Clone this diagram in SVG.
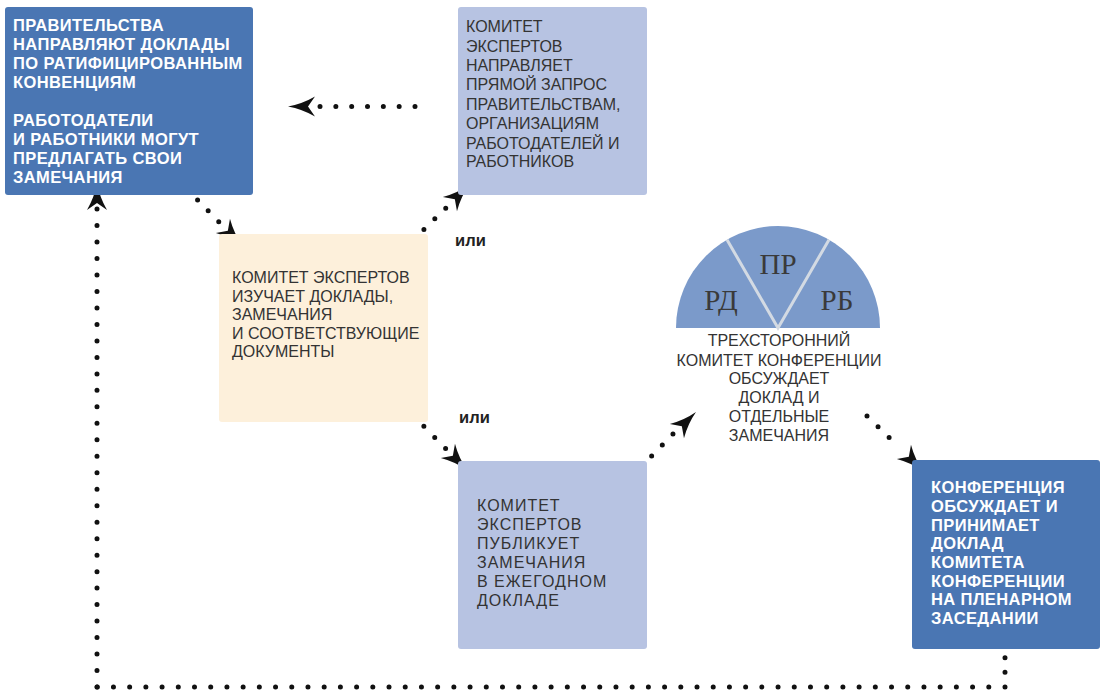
<svg xmlns="http://www.w3.org/2000/svg" xmlns:xlink="http://www.w3.org/1999/xlink" width="1100" height="692" viewBox="0 0 1100 692">
<style>
.dark{fill:#4a76b3}
.light{fill:#b7c3e2}
.cream{fill:#fdf0db}
.tw{font-family:"Liberation Sans","Arial",sans-serif;font-weight:bold;font-size:16.5px;letter-spacing:0.4px;fill:#ffffff}
.tg{font-family:"Liberation Sans","Arial",sans-serif;font-size:16px;fill:#333333}
.tr{letter-spacing:1px}
.ili{font-family:"Liberation Sans","Arial",sans-serif;font-weight:bold;font-size:16.5px;fill:#222222}
.ser{font-family:"Liberation Serif","DejaVu Serif",serif;font-size:29px;fill:#3a3a3a;text-anchor:middle}
.dot{fill:none;stroke:#111111;stroke-width:5;stroke-linecap:round}
</style>
<defs>
<path id="arrow" d="M0,0 Q-14,-2.5 -27,-10 L-20,0 L-27,10 Q-14,2.5 0,0 Z" fill="#111111"/>
</defs>
<g id="connectors">
<path class="dot" stroke-dasharray="0 15.83" d="M415,106.5 L320,106.5"/>
<use xlink:href="#arrow" transform="translate(288,106.5) rotate(180)"/>
<path class="dot" stroke-dasharray="0 15.2" d="M187,189 L219,222"/>
<use xlink:href="#arrow" transform="translate(242,245) rotate(45)"/>
<path class="dot" stroke-dasharray="0 15.2" d="M413,240 L446,208"/>
<use xlink:href="#arrow" transform="translate(469,185) rotate(-45)"/>
<path class="dot" stroke-dasharray="0 15.6" d="M413,415 L446,449"/>
<use xlink:href="#arrow" transform="translate(467,470) rotate(45)"/>
<path class="dot" stroke-dasharray="0 15.3" d="M641,467 L673,434"/>
<use xlink:href="#arrow" transform="translate(696,412) rotate(-45)"/>
<path class="dot" stroke-dasharray="0 15.4" d="M867,416 L900,448"/>
<use xlink:href="#arrow" transform="translate(923,471) rotate(45)"/>
<path class="dot" stroke-dasharray="0 14.67" d="M1005,643 L1005,687"/>
<path class="dot" stroke-dasharray="0 16.21" d="M1005,687 L97,687"/>
<path class="dot" stroke-dasharray="0 16.48" d="M97,687 L97,209"/>
<use xlink:href="#arrow" transform="translate(97,183) rotate(-90)"/>
</g>
<g id="n1">
<rect class="dark" x="5" y="7" width="248" height="188" rx="3"/>
<text class="tw"><tspan x="13" y="31">ПРАВИТЕЛЬСТВА</tspan><tspan x="13" y="50">НАПРАВЛЯЮТ ДОКЛАДЫ</tspan><tspan x="13" y="69">ПО РАТИФИЦИРОВАННЫМ</tspan><tspan x="13" y="88">КОНВЕНЦИЯМ</tspan><tspan x="13" y="126">РАБОТОДАТЕЛИ</tspan><tspan x="13" y="145">И РАБОТНИКИ МОГУТ</tspan><tspan x="13" y="164">ПРЕДЛАГАТЬ СВОИ</tspan><tspan x="13" y="183">ЗАМЕЧАНИЯ</tspan></text>
</g>
<g id="n2">
<rect class="light" x="458" y="7" width="189" height="188" rx="3"/>
<text class="tg"><tspan x="466" y="32">КОМИТЕТ</tspan><tspan x="466" y="51.5">ЭКСПЕРТОВ</tspan><tspan x="466" y="71">НАПРАВЛЯЕТ</tspan><tspan x="466" y="90">ПРЯМОЙ ЗАПРОС</tspan><tspan x="466" y="110">ПРАВИТЕЛЬСТВАМ,</tspan><tspan x="466" y="129">ОРГАНИЗАЦИЯМ</tspan><tspan x="466" y="148.5">РАБОТОДАТЕЛЕЙ И</tspan><tspan x="466" y="167">РАБОТНИКОВ</tspan></text>
</g>
<g id="n3">
<rect class="cream" x="219" y="234" width="209" height="188" rx="3"/>
<text class="tg"><tspan x="232" y="283">КОМИТЕТ ЭКСПЕРТОВ</tspan><tspan x="232" y="301.5">ИЗУЧАЕТ ДОКЛАДЫ,</tspan><tspan x="232" y="320">ЗАМЕЧАНИЯ</tspan><tspan x="232" y="338.5">И СООТВЕТСТВУЮЩИЕ</tspan><tspan x="232" y="357">ДОКУМЕНТЫ</tspan></text>
</g>
<g id="n4">
<rect class="light" x="458" y="461" width="189" height="188" rx="3"/>
<text class="tg tr"><tspan x="477" y="511">КОМИТЕТ</tspan><tspan x="477" y="530">ЭКСПЕРТОВ</tspan><tspan x="477" y="549">ПУБЛИКУЕТ</tspan><tspan x="477" y="568">ЗАМЕЧАНИЯ</tspan><tspan x="477" y="587">В ЕЖЕГОДНОМ</tspan><tspan x="477" y="606">ДОКЛАДЕ</tspan></text>
</g>
<g id="n5">
<rect class="dark" x="912" y="460" width="188" height="189" rx="3"/>
<text class="tw"><tspan x="931" y="493">КОНФЕРЕНЦИЯ</tspan><tspan x="931" y="512">ОБСУЖДАЕТ И</tspan><tspan x="931" y="530.5">ПРИНИМАЕТ</tspan><tspan x="931" y="549">ДОКЛАД</tspan><tspan x="931" y="568">КОМИТЕТА</tspan><tspan x="931" y="586.5">КОНФЕРЕНЦИИ</tspan><tspan x="931" y="605">НА ПЛЕНАРНОМ</tspan><tspan x="931" y="623.5">ЗАСЕДАНИИ</tspan></text>
</g>
<g id="n6">
<path d="M676,328 A102,102 0 0 1 880,328 Z" fill="#7b9aca"/>
<path d="M727,239.7 L778,328 L829,239.7" fill="none" stroke="#d3dae3" stroke-width="3"/>
<text class="ser" x="721" y="310">РД</text>
<text class="ser" x="778" y="274">ПР</text>
<text class="ser" x="837" y="310">РБ</text>
<text class="tg" text-anchor="middle"><tspan x="779" y="346">ТРЕХСТОРОННИЙ</tspan><tspan x="779" y="365.5">КОМИТЕТ КОНФЕРЕНЦИИ</tspan><tspan x="779" y="384">ОБСУЖДАЕТ</tspan><tspan x="779" y="403">ДОКЛАД И</tspan><tspan x="779" y="422">ОТДЕЛЬНЫЕ</tspan><tspan x="779" y="441">ЗАМЕЧАНИЯ</tspan></text>
</g>
<g id="labels">
<text class="ili" x="455" y="246">или</text>
<text class="ili" x="459" y="423">или</text>
</g>
</svg>
